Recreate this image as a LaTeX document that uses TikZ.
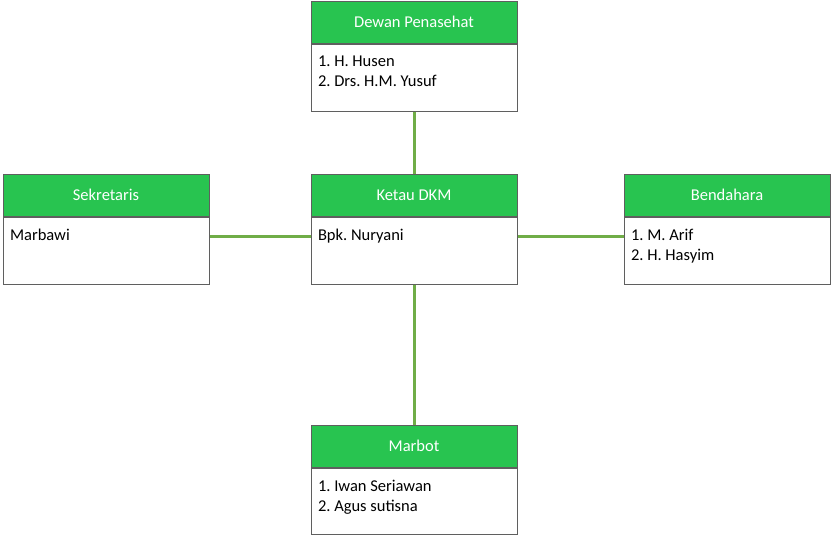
\documentclass[tikz,border=0pt]{standalone}
\usepackage{fontspec}
\setmainfont{Carlito}
\usepackage{tikz}
\usetikzlibrary{positioning}
\definecolor{HeadGreen}{RGB}{40,196,80}
\definecolor{LinkGreen}{RGB}{112,173,71}
\definecolor{BoxGray}{RGB}{95,95,95}
\frenchspacing

\begin{document}
\begin{tikzpicture}[x=1pt, y=-1pt,
      head/.style={rectangle, draw=BoxGray, line width=1pt, fill=HeadGreen,
                   minimum width=206pt, minimum height=42pt, inner sep=0pt,
                   text=white, font=\fontsize{16.5}{20}\selectfont},
      body/.style={rectangle, draw=BoxGray, line width=1pt, fill=white,
                   minimum width=206pt, inner xsep=7pt, inner ysep=12pt,
                   font=\fontsize{16.5}{20}\selectfont},
      link/.style={draw=LinkGreen, line width=3pt}
    ]
    \useasboundingbox (0,0) rectangle (831,536);
    \newcommand{\entries}[2][43pt]{\parbox[t][#1][t]{192pt}{\raggedright #2}}

    % Boxes
    \node[head] (DP) at (414,22) {Dewan Penasehat};
    \node[body, below=0pt of DP] (DPb)
        {\entries{1. H. Husen\\2. Drs. H.M. Yusuf}};

    \node[head] (K) at (414,195) {Ketau DKM};
    \node[body, below=0pt of K] (Kb)
        {\entries{Bpk. Nuryani}};

    \node[head] (S) at (106,195) {Sekretaris};
    \node[body, below=0pt of S] (Sb)
        {\entries{Marbawi}};

    \node[head] (B) at (727,195) {Bendahara};
    \node[body, below=0pt of B] (Bb)
        {\entries{1. M. Arif\\2. H. Hasyim}};

    \node[head] (M) at (414,446) {Marbot};
    \node[body, below=0pt of M] (Mb)
        {\entries[42.5pt]{1. Iwan Seriawan\\2. Agus sutisna}};

    % Connectors
    \draw[link] (DPb.south) -- (K.north);
    \draw[link] ([yshift=-20pt]Sb.north east) -- ([yshift=-20pt]Kb.north west);
    \draw[link] ([yshift=-20pt]Kb.north east) -- ([yshift=-20pt]Bb.north west);
    \draw[link] (Kb.south) -- (M.north);
  \end{tikzpicture}
\end{document}
